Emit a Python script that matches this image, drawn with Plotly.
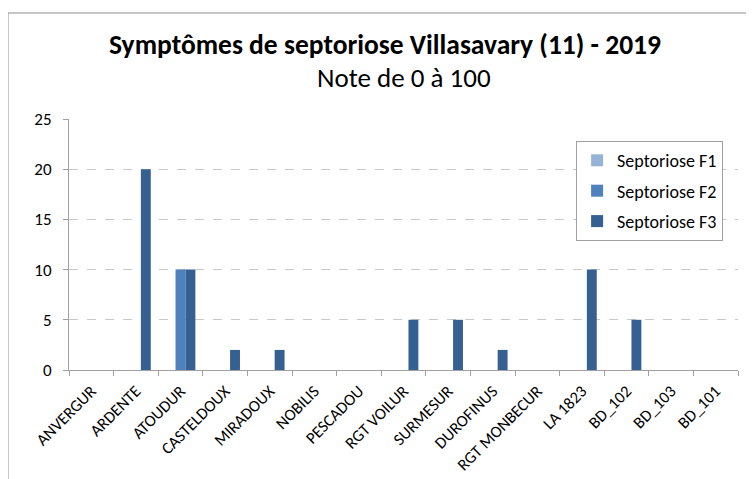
import plotly.graph_objects as go

categories = ["ANVERGUR", "ARDENTE", "ATOUDUR", "CASTELDOUX", "MIRADOUX", "NOBILIS",
              "PESCADOU", "RGT VOILUR", "SURMESUR", "DUROFINUS", "RGT MONBECUR",
              "LA 1823", "BD_102", "BD_103", "BD_101"]
f1 = [0, 0, 0, 0, 0, 0, 0, 0, 0, 0, 0, 0, 0, 0, 0]
f2 = [0, 0, 10, 0, 0, 0, 0, 0, 0, 0, 0, 0, 0, 0, 0]
f3 = [0, 20, 10, 2, 2, 0, 0, 5, 5, 2, 0, 10, 5, 0, 0]
y_ticks = [0, 5, 10, 15, 20, 25]

series = [("Septoriose F1", f1, "#95B3D7"),
          ("Septoriose F2", f2, "#4F81BD"),
          ("Septoriose F3", f3, "#366092")]

fig = go.Figure()
for name, vals, col in series:
    fig.add_trace(go.Bar(x=categories, y=vals, name=name, marker_color=col,
                         marker_line_width=0, legendgroup=name))

font = "Carlito, Open Sans, Noto Sans, sans-serif"
fig.update_layout(
    width=754, height=479,
    margin=dict(l=61, r=24, t=111, b=117, autoexpand=False),
    paper_bgcolor="white", plot_bgcolor="white",
    barmode="group", bargap=0.333, bargroupgap=0,
    font=dict(family=font, color="#000000"),
    title=dict(
        text="<b>Symptômes de septoriose Villasavary (11) - 2019</b>",
        x=0.5, xanchor="center", y=0.924, yanchor="middle",
        font=dict(size=27.5, family=font, color="#000000")),
    annotations=[dict(text="Note de 0 à 100", xref="paper", yref="paper",
                      x=0.5, y=1.167, xanchor="center", yanchor="middle",
                      showarrow=False, font=dict(size=27, family=font, color="#000000"))],
    legend=dict(x=0.758, y=0.912, xanchor="left", yanchor="top",
                bordercolor="#A0A0A0", borderwidth=1, bgcolor="white",
                font=dict(size=18, family=font), traceorder="grouped",
                tracegroupgap=4, itemwidth=30),
    xaxis=dict(showline=True, linecolor="#A0A0A0", linewidth=1, automargin=False,
               ticks="outside", tickson="boundaries", tickcolor="#A0A0A0", ticklen=5,
               ticklabelstandoff=4,
               tickangle=-45, tickfont=dict(size=16.5, family=font),
               showgrid=False),
    yaxis=dict(range=[0, 25], tickvals=y_ticks, showline=True, linecolor="#A0A0A0",
               automargin=False,
               ticks="outside", tickcolor="#A0A0A0", ticklen=5, ticklabelstandoff=8,
               tickfont=dict(size=17, family=font),
               showgrid=True, gridcolor="#C8C8C8", griddash="dash", gridwidth=1,
               zeroline=False),
    shapes=[dict(type="rect", xref="paper", yref="paper",
                 x0=-0.0912, x1=1.2, y0=-0.6, y1=1.4223,
                 line=dict(color="#8C8C8C", width=1), fillcolor="rgba(0,0,0,0)",
                 layer="below")],
)

fig.write_html("out.html")
